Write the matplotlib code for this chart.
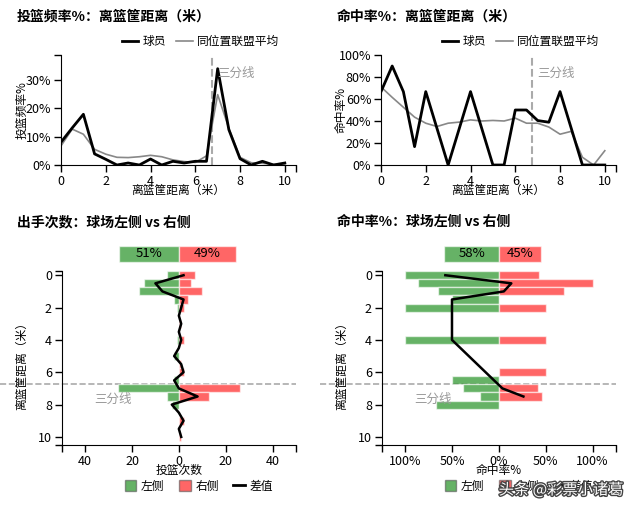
import numpy as np
import matplotlib
matplotlib.use("Agg")
import matplotlib.pyplot as plt
from matplotlib.patches import Patch
from matplotlib.lines import Line2D
import matplotlib.patheffects as pe

plt.rcParams["font.family"] = ["Noto Sans CJK SC", "DejaVu Sans"]

# ---------------- DATA ----------------

dist = [0, 0.5, 1, 1.5, 2, 2.5, 3, 3.5, 4, 4.5, 5, 5.5, 6, 6.5, 7, 7.5, 8, 8.5, 9, 9.5, 10]

# shot frequency (%)
player_freq = [8.0, 13.0, 17.8, 3.9, 2.0, 0.0, 0.7, 0.0, 2.1, 0.0, 1.3, 0.7,
               1.3, 1.3, 33.8, 12.4, 2.2, 0.0, 1.3, 0.0, 0.7]
league_freq = [6.7, 12.6, 10.8, 5.5, 3.8, 2.7, 2.6, 2.9, 3.4, 2.9, 1.8, 1.2,
               0.9, 3.2, 24.7, 12.9, 2.7, 0.8, 0.6, 0.2, 0.4]

# field goal % (None = no shots from there)
player_fg = [66.7, 90.0, 66.7, 16.7, 66.7, None, 0.0, None, 66.7, None, 0.0, 0.0,
             50.0, 50.0, 40.4, 38.9, 66.7, None, 0.0, None, 0.0]
league_fg = [71, 61.5, 52.5, 43.5, 38, 35, 38, 39, 41, 40, 40.5, 40,
             42.6, 38, 38, 34.5, 28, 30.6, 7, 0, 13]

# attempts per side
left_att = [5, 15, 17, 2, 1, 0, 0, 0, 1, 0, 2, 0, 0, 2, 26, 5, 3, 0, 0, 0, 0]
right_att = [7, 5, 10, 4, 2, 0, 1, 0, 2, 0, 0, 1, 2, 0, 26, 13, 0, 0, 2, 0, 1]
att_share = [51, 49]

# fg % per side (None = no shots)
left_fg = [100, 86.7, 64.7, 50, 100, None, None, None, 100, None, 0, None,
           None, 50, 38.5, 20, 66.7, None, None, None, None]
right_fg = [42.9, 100, 70, 0, 50, None, 0, None, 50, None, None, 0,
            50, None, 42.3, 46.2, None, None, 0, None, 0]
fg_share = [58, 45]

THREE_PT = 6.75

W, H = 642, 514
GREEN = "green"
RED = "red"

fig = plt.figure(figsize=(W / 100, H / 100), dpi=100)


def px_axes(l, t, r, b):
    return fig.add_axes([l / W, 1 - b / H, (r - l) / W, (b - t) / H])


def style_axis(ax):
    for s in ["top", "right"]:
        ax.spines[s].set_visible(False)
    ax.tick_params(which="both", length=5, width=1, labelsize=9, pad=2)
    ax.tick_params(which="minor", length=5)


# ---------------- TOP CHARTS ----------------

def top_chart(ax, player, league, ylim, yticks, ylabel, title, text_y):
    x = np.array(dist)
    p = np.array([np.nan if v is None else v for v in player], dtype=float) / 100
    m = ~np.isnan(p)
    ax.plot(x, np.array(league) / 100, color="#888888", lw=1.2, label="同位置联盟平均", zorder=2)
    ax.plot(x[m], p[m], color="black", lw=2, label="球员", zorder=3)
    ax.axvline(THREE_PT, color="#aaaaaa", ls="--", lw=1.5, zorder=1)
    ax.text(7.0, text_y, "三分线", color="#999999", fontsize=9, va="center")
    ax.set_xlim(0, 10.5)
    ax.set_ylim(*ylim)
    ax.set_xticks([0, 2, 4, 6, 8, 10])
    ax.set_xticks([10.5], minor=True)
    ax.set_yticks(yticks)
    ax.set_yticks([ylim[1]], minor=True)
    ax.set_yticklabels([f"{int(round(v * 100))}%" for v in yticks])
    style_axis(ax)
    ax.set_xlabel("离篮筐距离（米）", fontsize=8.5)
    ax.xaxis.set_label_coords(0.5, -19 / 110)
    ax.set_ylabel(ylabel, fontsize=8.5)
    ax.yaxis.set_label_coords(-0.14, 0.5)
    h, l = ax.get_legend_handles_labels()
    ax.legend(h[::-1], l[::-1], loc="center right", bbox_to_anchor=(0.93, 1.12),
              ncol=2, frameon=False, fontsize=8.5, handlelength=1.4,
              handletextpad=0.4, columnspacing=0.8, borderpad=0, borderaxespad=0)
    ax.text(-44 / 235, 1.0 + 38 / 110, title, transform=ax.transAxes,
            fontsize=10, fontweight="bold", va="center", ha="left")


ax1 = px_axes(61, 55, 296, 165)
top_chart(ax1, player_freq, league_freq, (0, 0.386), [0, 0.1, 0.2, 0.3],
          "投篮频率%", "投篮频率%：离篮筐距离（米）", 0.32)

ax2 = px_axes(381, 55, 616, 165)
top_chart(ax2, player_fg, league_fg, (0, 1.0), [0, 0.2, 0.4, 0.6, 0.8, 1.0],
          "命中率%", "命中率%：离篮筐距离（米）", 0.83)


# ---------------- BOTTOM CHARTS ----------------

def side_chart(ax, left, right, share, share_scale, xmax, xticks, xticklabels,
               xlabel, title, line_mask):
    y = np.array(dist)
    lv = np.array([0 if v is None else v for v in left], dtype=float)
    rv = np.array([0 if v is None else v for v in right], dtype=float)
    ax.barh(y, -lv, height=0.5, color=GREEN, alpha=0.6, edgecolor="white", lw=1, zorder=2)
    ax.barh(y, rv, height=0.5, color=RED, alpha=0.6, edgecolor="white", lw=1, zorder=2)
    diff = rv - lv
    ax.plot(diff[line_mask], y[line_mask], color="black", lw=1.8, zorder=3)

    # share bar on top
    ax.barh(-1.32, -share[0] * share_scale, height=0.97, color=GREEN, alpha=0.6,
            edgecolor="white", lw=1, clip_on=False)
    ax.barh(-1.32, share[1] * share_scale, height=0.97, color=RED, alpha=0.6,
            edgecolor="white", lw=1, clip_on=False)
    ax.text(-share[0] * share_scale / 2, -1.32, f"{share[0]}%", ha="center", va="center", fontsize=9.5)
    ax.text(share[1] * share_scale / 2, -1.32, f"{share[1]}%", ha="center", va="center", fontsize=9.5)

    # three point line
    ax.plot([-0.263, 1.0], [THREE_PT, THREE_PT], transform=ax.get_yaxis_transform(),
            color="#aaaaaa", ls="--", lw=1.2, clip_on=False, zorder=1)
    ax.text(-0.56 * xmax, 7.7, "三分线", color="#999999", fontsize=9,
            ha="center", va="center")

    ax.set_xlim(-xmax, xmax)
    ax.set_ylim(10.5, -0.25)
    ax.set_xticks(xticks)
    ax.set_xticklabels(xticklabels)
    ax.set_xticks([-xmax, xmax], minor=True)
    ax.set_yticks([0, 2, 4, 6, 8, 10])
    ax.set_yticks([-0.25, 10.5], minor=True)
    style_axis(ax)
    ax.set_xlabel(xlabel, fontsize=8.5)
    ax.xaxis.set_label_coords(0.5, -19 / 173.8)
    ax.set_ylabel("离篮筐距离（米）", fontsize=8.5)
    ax.yaxis.set_label_coords(-0.144, 0.47)
    handles = [Patch(facecolor=GREEN, alpha=0.6, edgecolor="#555555", lw=1),
               Patch(facecolor=RED, alpha=0.6, edgecolor="#555555", lw=1),
               Line2D([0], [0], color="black", lw=2)]
    ax.legend(handles, ["左侧", "右侧", "差值"], loc="center", bbox_to_anchor=(0.585, -0.236),
              ncol=3, frameon=False, fontsize=8.5, handlelength=1.0, handleheight=1.0,
              handletextpad=0.4, columnspacing=1.2, borderpad=0, borderaxespad=0)
    ax.text(-44.7 / 234.3, 1.0 + 49 / 173.8, title, transform=ax.transAxes,
            fontsize=10, fontweight="bold", va="center", ha="left")


mask_att = np.ones(len(dist), dtype=bool)
ax3 = px_axes(61.7, 271.2, 296, 445)
side_chart(ax3, left_att, right_att, att_share, 0.5, 50, [-40, -20, 0, 20, 40],
           ["40", "20", "0", "20", "40"], "投篮次数", "出手次数：球场左侧 vs 右侧", mask_att)

mask_fg = np.array([(a is not None) and (b is not None) for a, b in zip(left_fg, right_fg)])
ax4 = px_axes(381.7, 271.2, 616, 445)
side_chart(ax4, left_fg, right_fg, fg_share, 1.0, 125, [-100, -50, 0, 50, 100],
           ["100%", "50%", "0%", "50%", "100%"], "命中率%", "命中率%：球场左侧 vs 右侧", mask_fg)

fig.text(561 / W, 1 - 490 / H, "头条 @彩票小诸葛", fontsize=11, color="white",
         ha="center", va="center",
         path_effects=[pe.withStroke(linewidth=2, foreground="#444444")])

fig.savefig("out.png", dpi=100)
